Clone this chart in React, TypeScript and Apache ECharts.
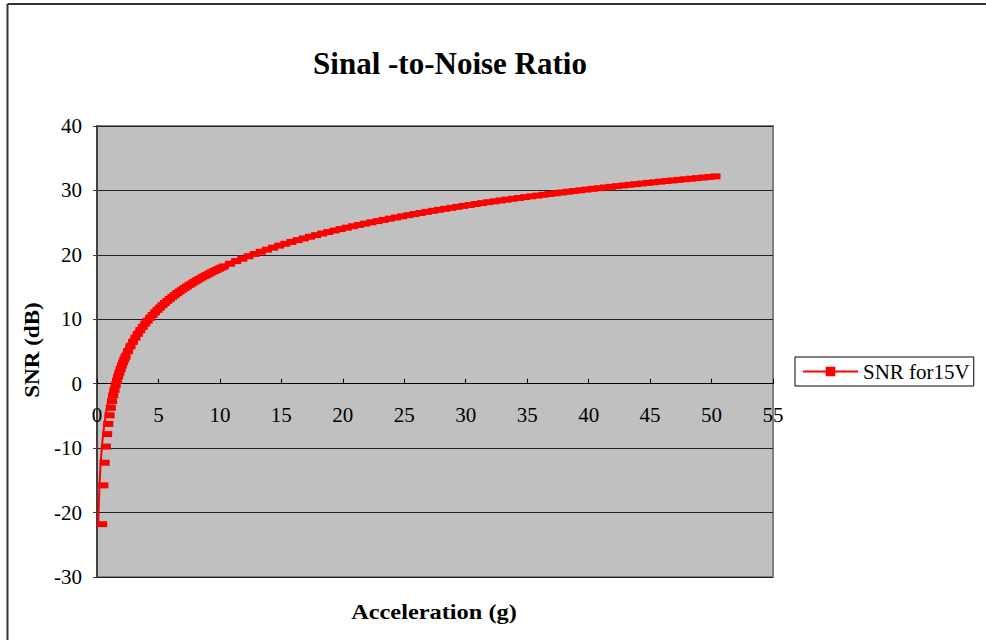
import React, { useEffect, useRef } from "react";
import * as echarts from "echarts";

// Acceleration (g)
const accel: number[] = [
  0.1, 0.2, 0.3, 0.4, 0.5, 0.6, 0.7, 0.8, 0.9, 1.0,
  1.1, 1.2, 1.3, 1.4, 1.5, 1.6, 1.7, 1.8, 1.9, 2.0,
  2.2, 2.4, 2.6, 2.8, 3.0, 3.2, 3.4, 3.6, 3.8, 4.0,
  4.2, 4.4, 4.6, 4.8, 5.0, 5.2, 5.4, 5.6, 5.8, 6.0,
  6.2, 6.4, 6.6, 6.8, 7.0, 7.2, 7.4, 7.6, 7.8, 8.0,
  8.2, 8.4, 8.6, 8.8, 9.0, 9.2, 9.4, 9.6, 9.8, 10.0,
  10.5, 11, 11.5, 12, 12.5, 13, 13.5, 14, 14.5, 15,
  15.5, 16, 16.5, 17, 17.5, 18, 18.5, 19, 19.5, 20,
  20.5, 21, 21.5, 22, 22.5, 23, 23.5, 24, 24.5, 25,
  25.5, 26, 26.5, 27, 27.5, 28, 28.5, 29, 29.5, 30,
  30.5, 31, 31.5, 32, 32.5, 33, 33.5, 34, 34.5, 35,
  35.5, 36, 36.5, 37, 37.5, 38, 38.5, 39, 39.5, 40,
  40.5, 41, 41.5, 42, 42.5, 43, 43.5, 44, 44.5, 45,
  45.5, 46, 46.5, 47, 47.5, 48, 48.5, 49, 49.5, 50,
];

// SNR (dB) for 15V
const snr15V: number[] = [
  -21.8, -15.78, -12.26, -9.76, -7.82, -6.24, -4.9, -3.74, -2.72, -1.8,
  -0.97, -0.22, 0.48, 1.12, 1.72, 2.28, 2.81, 3.31, 3.78, 4.22,
  5.05, 5.8, 6.5, 7.14, 7.74, 8.3, 8.83, 9.33, 9.8, 10.24,
  10.67, 11.07, 11.46, 11.82, 12.18, 12.52, 12.85, 13.16, 13.47, 13.76,
  14.05, 14.32, 14.59, 14.85, 15.1, 15.35, 15.58, 15.82, 16.04, 16.26,
  16.48, 16.69, 16.89, 17.09, 17.28, 17.48, 17.66, 17.85, 18.02, 18.2,
  18.62, 19.03, 19.41, 19.78, 20.14, 20.48, 20.81, 21.12, 21.43, 21.72,
  22.01, 22.28, 22.55, 22.81, 23.06, 23.31, 23.54, 23.78, 24.0, 24.22,
  24.44, 24.64, 24.85, 25.05, 25.24, 25.43, 25.62, 25.8, 25.98, 26.16,
  26.33, 26.5, 26.67, 26.83, 26.99, 27.14, 27.3, 27.45, 27.6, 27.74,
  27.89, 28.03, 28.17, 28.3, 28.44, 28.57, 28.7, 28.83, 28.96, 29.08,
  29.2, 29.33, 29.45, 29.56, 29.68, 29.8, 29.91, 30.02, 30.13, 30.24,
  30.35, 30.46, 30.56, 30.67, 30.77, 30.87, 30.97, 31.07, 31.17, 31.26,
  31.36, 31.46, 31.55, 31.64, 31.73, 31.82, 31.91, 32.0, 32.09, 32.18,
];

const seriesName = "SNR for15V";
const titleText = "Sinal -to-Noise Ratio";
const xTitle = "Acceleration (g)";
const yTitle = "SNR (dB)";

const FONT = "'Liberation Serif', 'Times New Roman', serif";

// grid geometry
const GRID_LEFT = 97;
const GRID_TOP = 126;
const GRID_W = 676;
const GRID_H = 451;
const Y_MIN = -30;
const Y_MAX = 40;

export default function App() {
  const ref = useRef<HTMLDivElement>(null);

  useEffect(() => {
    if (!ref.current) return;
    const chart = echarts.init(ref.current, undefined, { renderer: "svg" });
    const data = accel.map((a, i) => [a, snr15V[i]]);
    // move the x axis (line, ticks and labels) up so that it crosses y = 0
    const zeroOffset = -(GRID_H * (0 - Y_MIN)) / (Y_MAX - Y_MIN);
    chart.setOption({
      animation: false,
      backgroundColor: "#ffffff",
      grid: {
        left: GRID_LEFT,
        top: GRID_TOP,
        width: GRID_W,
        height: GRID_H,
        show: true,
        backgroundColor: "#C0C0C0",
        borderColor: "#808080",
        borderWidth: 2,
      },
      xAxis: {
        type: "value",
        min: 0,
        max: 55,
        interval: 5,
        offset: zeroOffset,
        axisLine: { show: true, onZero: false, lineStyle: { color: "#000", width: 1 } },
        axisTick: { show: true, inside: true, length: 5, lineStyle: { color: "#000" } },
        axisLabel: {
          margin: 21,
          color: "#000",
          fontFamily: FONT,
          fontSize: 21,
        },
        splitLine: { show: false },
      },
      yAxis: {
        type: "value",
        min: Y_MIN,
        max: Y_MAX,
        interval: 10,
        axisLine: { show: true, onZero: false, lineStyle: { color: "#404040", width: 2 } },
        axisTick: { show: true, inside: false, length: 4, lineStyle: { color: "#404040" } },
        axisLabel: {
          margin: 15,
          color: "#000",
          fontFamily: FONT,
          fontSize: 21,
        },
        splitLine: { show: true, lineStyle: { color: "#222", width: 1 } },
      },
      legend: {
        show: true,
        left: 795,
        top: 357,
        orient: "vertical",
        borderColor: "#000",
        borderWidth: 1,
        padding: [4, 4, 4, 7],
        itemWidth: 55,
        itemHeight: 12,
        itemGap: 6,
        textStyle: { color: "#000", fontFamily: FONT, fontSize: 21 },
        data: [seriesName],
      },
      graphic: [
        {
          type: "line",
          shape: { x1: 7.5, y1: 4, x2: 986, y2: 4 },
          style: { stroke: "#333", lineWidth: 2 },
        },
        {
          type: "line",
          shape: { x1: 7.5, y1: 4, x2: 7.5, y2: 640 },
          style: { stroke: "#333", lineWidth: 2 },
        },
        {
          type: "text",
          x: 450,
          y: 63,
          style: {
            text: titleText,
            font: `bold 31px ${FONT}`,
            fill: "#000",
            align: "center",
            verticalAlign: "middle",
          },
        },
        {
          type: "text",
          x: 434,
          y: 612,
          scaleX: 1.16,
          style: {
            text: xTitle,
            font: `bold 21px ${FONT}`,
            fill: "#000",
            align: "center",
            verticalAlign: "middle",
          },
        },
        {
          type: "text",
          x: 32,
          y: 350,
          rotation: Math.PI / 2,
          scaleX: 1.1,
          style: {
            text: yTitle,
            font: `bold 21px ${FONT}`,
            fill: "#000",
            align: "center",
            verticalAlign: "middle",
          },
        },
      ],
      series: [
        {
          name: seriesName,
          type: "line",
          data,
          showAllSymbol: true,
          symbol: "rect",
          symbolSize: [10, 6],
          symbolOffset: [4, 0],
          lineStyle: { color: "#FF0000", width: 2 },
          itemStyle: { color: "#FF0000" },
          z: 3,
        },
      ],
    });
    return () => chart.dispose();
  }, []);

  return (
    <div
      ref={ref}
      style={{ position: "fixed", left: 0, top: 0, width: 986, height: 640 }}
    />
  );
}
